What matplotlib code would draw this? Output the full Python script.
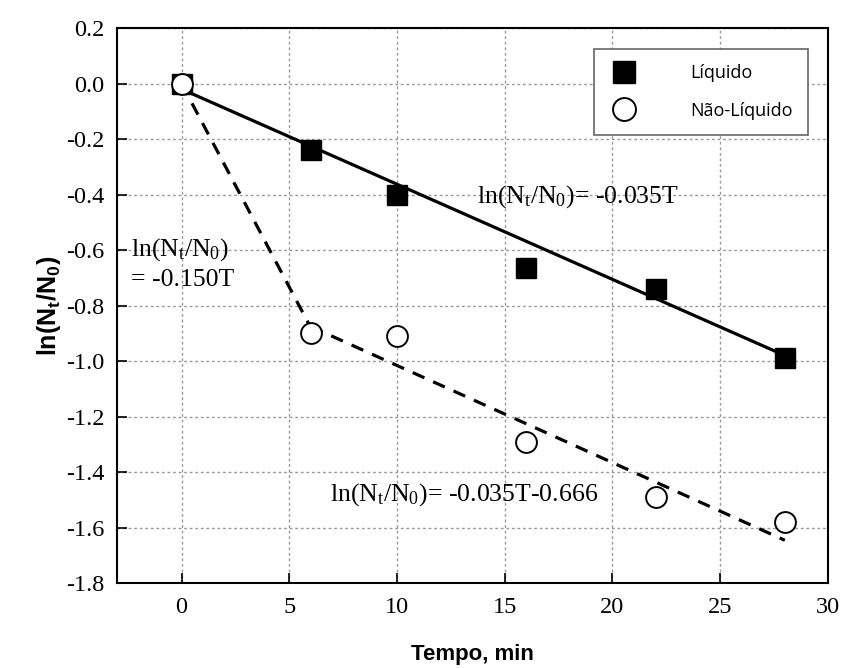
import matplotlib
matplotlib.use("Agg")
import matplotlib.pyplot as plt

plt.rcParams['mathtext.fontset'] = 'custom'
plt.rcParams['mathtext.rm'] = 'Liberation Serif'
plt.rcParams['mathtext.it'] = 'Liberation Serif:italic'
plt.rcParams['mathtext.bf'] = 'Liberation Sans:bold'

# dados
tempo = [0, 6, 10, 16, 22, 28]
liquido = [0.0, -0.24, -0.40, -0.665, -0.74, -0.99]
nao_liquido = [0.0, -0.90, -0.91, -1.29, -1.49, -1.58]

# retas de ajuste (extremos)
fit_liq_x = [0, 28]
fit_liq_y = [-0.02, -0.98]
fit_nl1_x = [0, 6]
fit_nl1_y = [0.0, -0.88]
fit_nl2_x = [6, 28]
fit_nl2_y = [-0.876, -1.646]

yticks = [0.2, 0.0, -0.2, -0.4, -0.6, -0.8, -1.0, -1.2, -1.4, -1.6, -1.8]

fig = plt.figure(figsize=(8.47, 6.68), dpi=100)
ax = fig.add_axes([0.138, 0.1272, 0.8395, 0.8308])

ax.plot(fit_liq_x, fit_liq_y, color='black', lw=2.3, zorder=2)
ax.plot(fit_nl1_x, fit_nl1_y, color='black', lw=2.3, ls=(0, (4, 3)), zorder=2)
ax.plot(fit_nl2_x, fit_nl2_y, color='black', lw=2.3, ls=(0, (4, 3)), zorder=2)

ax.plot(tempo, liquido, 's', color='black', ms=14, ls='none', label='Líquido', zorder=3)
ax.plot(tempo, nao_liquido, 'o', mfc='white', mec='black', mew=1.4, ms=15,
        ls='none', label='Não-Líquido', zorder=4)

ax.set_xlim(-3, 30)
ax.set_ylim(-1.8, 0.2)
ax.set_xticks([0, 5, 10, 15, 20, 25, 30])
ax.set_yticks(yticks)
ax.set_yticklabels(['%.1f' % v for v in yticks])
for lbl in ax.get_xticklabels() + ax.get_yticklabels():
    lbl.set_fontfamily('Liberation Serif')
    lbl.set_fontsize(17.5)
ax.tick_params(direction='in', length=7, width=1.2)
ax.tick_params(axis='y', pad=9)
ax.tick_params(axis='x', pad=10)
for s in ax.spines.values():
    s.set_linewidth(1.5)
ax.grid(True, ls=(0, (2, 2)), color='#999999', lw=1)

ax.set_xlabel('Tempo, min', fontfamily='Liberation Sans', fontweight='bold',
              fontsize=16, labelpad=19)
ax.set_ylabel(r'$\mathbf{ln(N_\mathbf{t}/N_0)}$', fontsize=18, labelpad=2)

ax.text(13.7, -0.407, r'ln(N$_\mathrm{t}$/N$_0$)= -0.035T', fontsize=18.5,
        fontfamily='Liberation Serif', va='center', ha='left')
ax.text(-2.35, -0.65, 'ln(N$_\\mathrm{t}$/N$_0$)\n= -0.150T', fontsize=18.5,
        fontfamily='Liberation Serif', va='center', ha='left', linespacing=1.35)
ax.text(6.9, -1.48, r'ln(N$_\mathrm{t}$/N$_0$)= -0.035T-0.666', fontsize=18.5,
        fontfamily='Liberation Serif', va='center', ha='left')

leg = ax.legend(loc='upper right', bbox_to_anchor=(0.972, 0.963), fancybox=False,
                edgecolor='#666666', framealpha=1, prop={'family': 'Open Sans', 'size': 13},
                handletextpad=2.8, labelspacing=1.1, borderpad=0.85, handlelength=1.7,
                borderaxespad=0, markerscale=1.1)
leg.get_frame().set_linewidth(1.2)

fig.savefig('out.png', dpi=100)
